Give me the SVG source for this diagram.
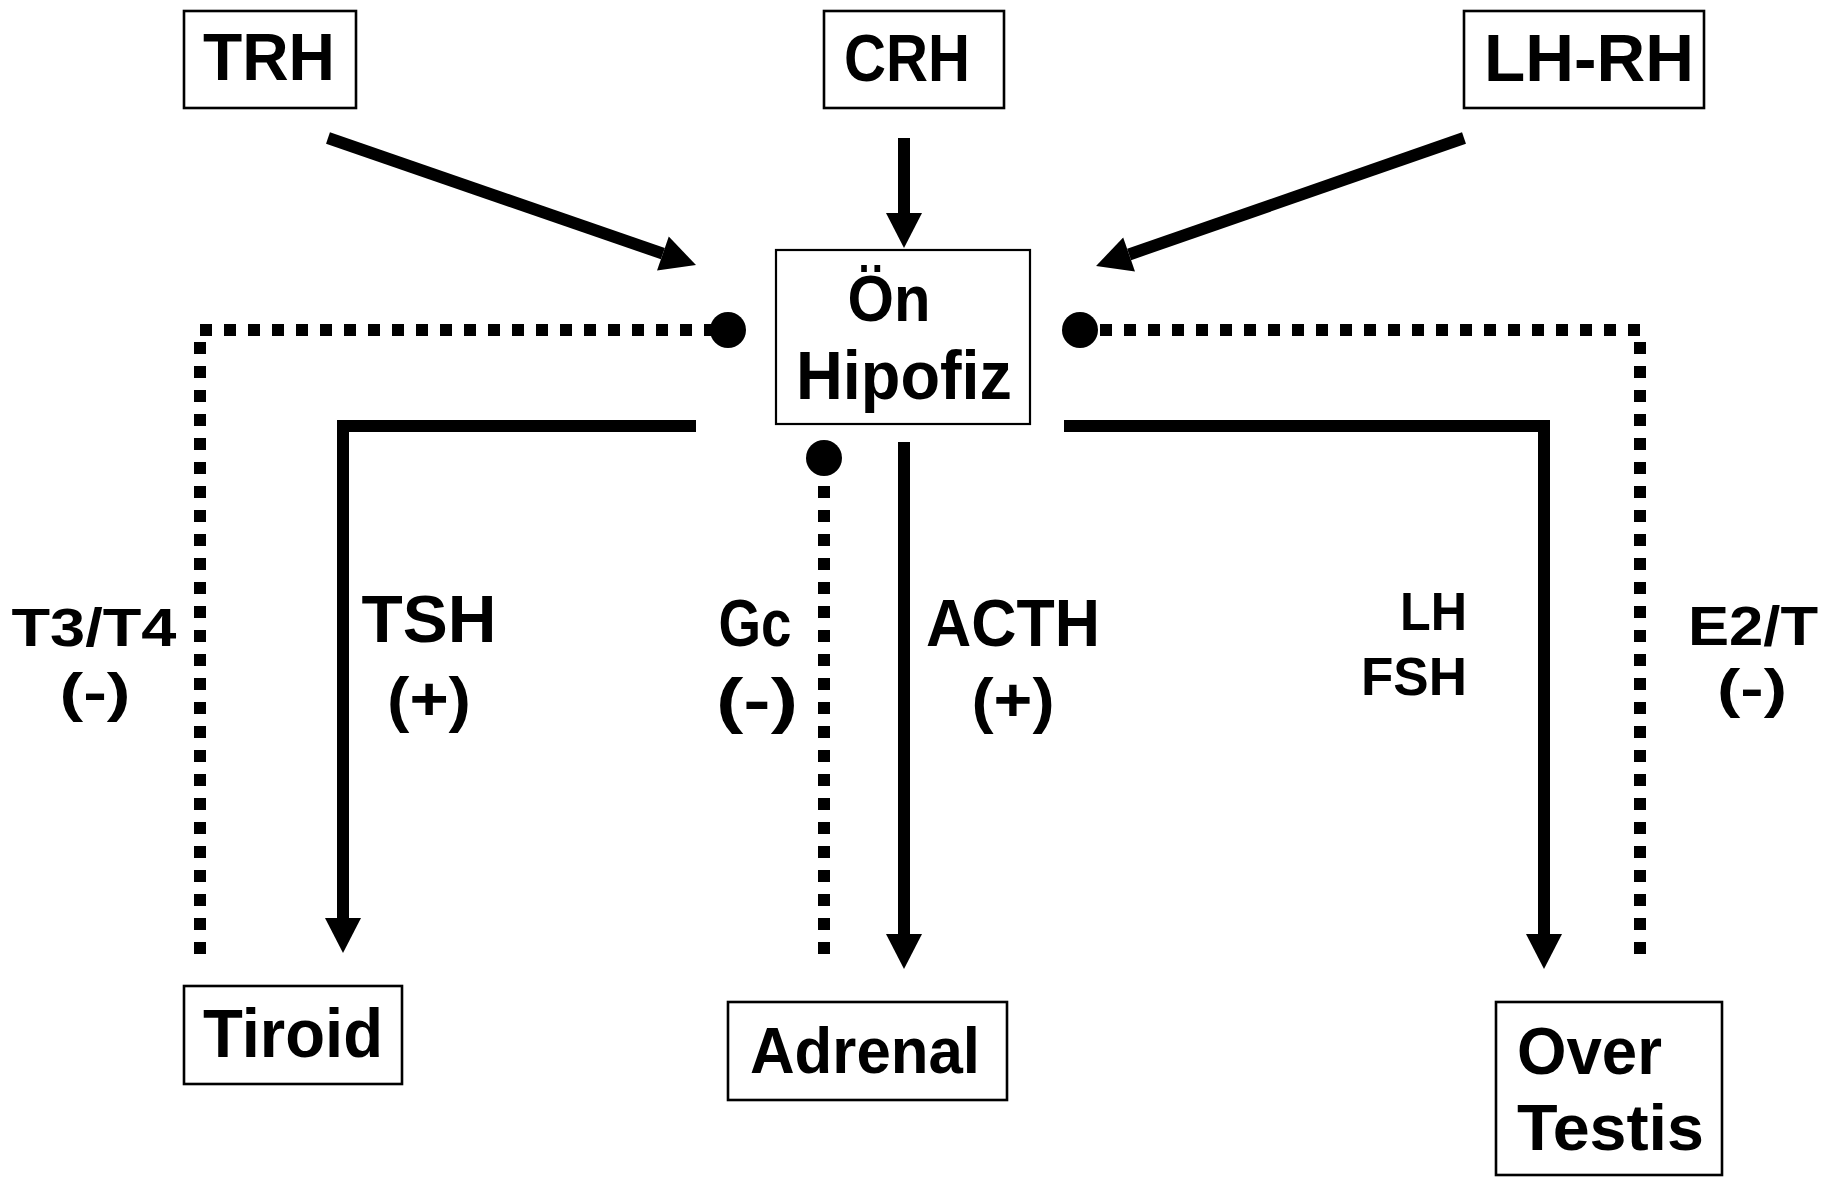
<svg xmlns="http://www.w3.org/2000/svg" width="1834" height="1178" viewBox="0 0 1834 1178">
<style>
.box{fill:#fff;stroke:#000;stroke-width:2.6}
.t{font-family:"Liberation Sans","Noto Sans",sans-serif;font-weight:700;fill:#000;text-anchor:middle}
.solid{fill:none;stroke:#000;stroke-width:12;stroke-linecap:butt;stroke-linejoin:miter}
.dot{fill:none;stroke:#000;stroke-width:12;stroke-dasharray:12 12}
</style>
<defs>
<marker id="ah" markerUnits="userSpaceOnUse" markerWidth="36" markerHeight="36" refX="0" refY="18" orient="auto" viewBox="0 0 35 36">
<path d="M0,0 L35,18 L0,36 Z" fill="#000"/>
</marker>
</defs>
<rect width="1834" height="1178" fill="#fff"/>

<g id="connectors">
<line class="solid" x1="328" y1="138" x2="662.9" y2="253.6" marker-end="url(#ah)"/>
<line class="solid" x1="904" y1="138" x2="904" y2="213" marker-end="url(#ah)"/>
<line class="solid" x1="1464" y1="138" x2="1129.1" y2="254.5" marker-end="url(#ah)"/>
<path class="solid" d="M696,426 H343 V918" marker-end="url(#ah)"/>
<path class="solid" d="M904,442 V934" marker-end="url(#ah)"/>
<path class="solid" d="M1064,426 H1544 V934" marker-end="url(#ah)"/>
<path class="dot" d="M200,330 H716"/>
<path class="dot" d="M200,342 V954"/>
<path class="dot" d="M1100,330 H1646"/>
<path class="dot" d="M1640,342 V954"/>
<path class="dot" d="M824,486 V954"/>
<circle cx="728" cy="330" r="18" fill="#000"/>
<circle cx="1080" cy="330" r="18" fill="#000"/>
<circle cx="824" cy="458" r="18" fill="#000"/>
</g>

<g id="TRH">
<rect class="box" x="184" y="11" width="172" height="97"/>
<text class="t" x="269" y="80" font-size="66" textLength="132" lengthAdjust="spacingAndGlyphs">TRH</text>
</g>
<g id="CRH">
<rect class="box" x="824" y="11" width="180" height="97"/>
<text class="t" x="907" y="81" font-size="66" textLength="126" lengthAdjust="spacingAndGlyphs">CRH</text>
</g>
<g id="LH-RH">
<rect class="box" x="1464" y="11" width="240" height="97"/>
<text class="t" x="1589" y="81" font-size="66" textLength="210" lengthAdjust="spacingAndGlyphs">LH-RH</text>
</g>
<g id="OnHipofiz">
<rect class="box" x="776" y="250" width="254" height="174" style="stroke-width:2.2"/>
<text class="t" x="889" y="321" font-size="64" textLength="83" lengthAdjust="spacingAndGlyphs">Ön</text>
<text class="t" x="904" y="399" font-size="68" textLength="216" lengthAdjust="spacingAndGlyphs">Hipofiz</text>
</g>
<g id="Tiroid">
<rect class="box" x="184" y="986" width="218" height="98"/>
<text class="t" x="293" y="1057" font-size="68" textLength="180" lengthAdjust="spacingAndGlyphs">Tiroid</text>
</g>
<g id="Adrenal">
<rect class="box" x="728" y="1002" width="279" height="98"/>
<text class="t" x="865" y="1073" font-size="65" textLength="230" lengthAdjust="spacingAndGlyphs">Adrenal</text>
</g>
<g id="OverTestis">
<rect class="box" x="1496" y="1002" width="226" height="173"/>
<text class="t" x="1517" y="1074" font-size="66" textLength="145" lengthAdjust="spacingAndGlyphs" style="text-anchor:start">Over</text>
<text class="t" x="1517" y="1150" font-size="64" textLength="187" lengthAdjust="spacingAndGlyphs" style="text-anchor:start">Testis</text>
</g>

<g id="labels">
<text class="t" x="94" y="646" font-size="53" textLength="165" lengthAdjust="spacingAndGlyphs">T3/T4</text>
<text class="t" x="95" y="711" font-size="54" textLength="71" lengthAdjust="spacingAndGlyphs">(-)</text>
<text class="t" x="429" y="642" font-size="66" textLength="135" lengthAdjust="spacingAndGlyphs">TSH</text>
<text class="t" x="429" y="720" font-size="62" textLength="84" lengthAdjust="spacingAndGlyphs">(+)</text>
<text class="t" x="755" y="646" font-size="66" textLength="73" lengthAdjust="spacingAndGlyphs">Gc</text>
<text class="t" x="757" y="721" font-size="62" textLength="82" lengthAdjust="spacingAndGlyphs">(-)</text>
<text class="t" x="1013" y="646" font-size="67" textLength="174" lengthAdjust="spacingAndGlyphs">ACTH</text>
<text class="t" x="1013" y="721" font-size="62" textLength="83" lengthAdjust="spacingAndGlyphs">(+)</text>
<text class="t" x="1467" y="630" font-size="54" textLength="67" lengthAdjust="spacingAndGlyphs" style="text-anchor:end">LH</text>
<text class="t" x="1467" y="695" font-size="54" textLength="106" lengthAdjust="spacingAndGlyphs" style="text-anchor:end">FSH</text>
<text class="t" x="1753" y="645" font-size="56" textLength="130" lengthAdjust="spacingAndGlyphs">E2/T</text>
<text class="t" x="1752" y="707" font-size="53" textLength="70" lengthAdjust="spacingAndGlyphs">(-)</text>
</g>
</svg>
